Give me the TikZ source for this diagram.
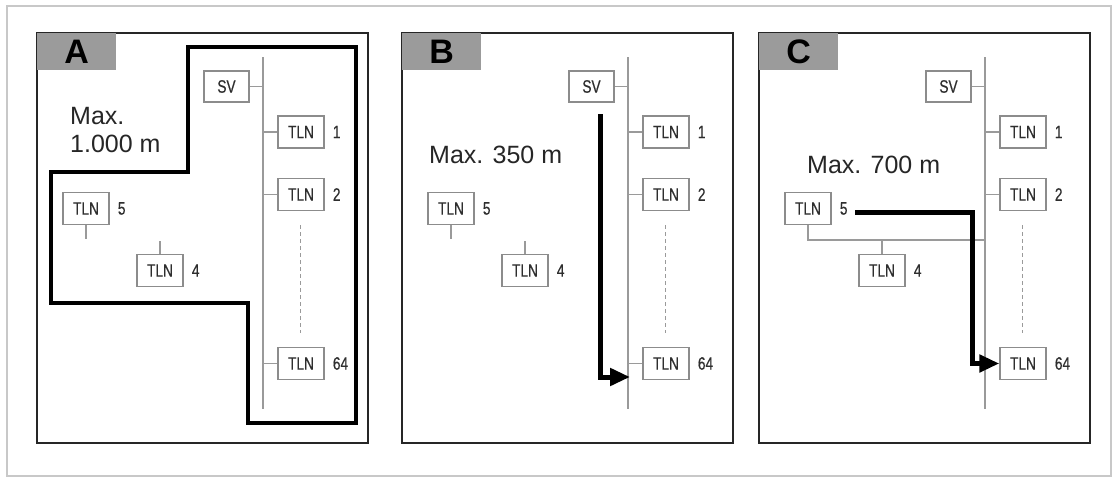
\documentclass[tikz,border=0pt]{standalone}
\usepackage{fontspec}
\setmainfont{Liberation Sans}
\newfontfamily\narrowfont[FakeStretch=0.76,FakeBold=0.5]{Liberation Sans}
\usetikzlibrary{arrows.meta,calc}
\definecolor{boxgray}{HTML}{8C8C8C}
\definecolor{linegray}{HTML}{9A9A9A}
\definecolor{txtgray}{HTML}{2E2E2E}
\definecolor{labgray}{HTML}{9B9B9B}
\definecolor{outergray}{HTML}{C8C8C8}
\tikzset{
  tlnbox/.style={draw=boxgray, line width=1.4pt, minimum width=46pt, minimum height=32pt,
    inner sep=0pt, fill=white, text=txtgray, font=\narrowfont\fontsize{18}{18}\selectfont},
  numlab/.style={text=txtgray, font=\narrowfont\fontsize{18}{18}\selectfont, inner sep=0pt,
    xshift=8pt},
  busline/.style={draw=linegray, line width=1.4pt},
  dashline/.style={draw=linegray, line width=1pt, dash pattern=on 4pt off 3pt},
  panelframe/.style={draw=black!85, line width=1.6pt},
  labelbox/.style={fill=labgray, minimum width=79pt, minimum height=37pt, inner sep=0pt,
    anchor=north west, font=\bfseries\fontsize{34}{34}\selectfont, text=black},
  maxtext/.style={anchor=base west, inner sep=0pt, text=black!85, font=\fontsize{25}{28}\selectfont},
  thickpath/.style={draw=black, line width=4.5pt},
  arrowpath/.style={draw=black, line width=5pt, -{Triangle[length=20pt,width=17pt]}},
}
\newcommand\drawpanel[3]{%
\begin{scope}[xshift=#1pt]
  \draw[panelframe] (0,33) rectangle (331,443);
  \node[labelbox] (#3lab) at (0,33) {#2};
  \coordinate (#3top) at (226,57);
  \coordinate (#3bot) at (226,409);
  \draw[busline] (#3top) -- (#3bot);
  \node[tlnbox, minimum width=45pt, minimum height=31pt] (#3sv) at (189.5,86.5) {SV};
  \node[tlnbox, label={[numlab]right:1}] (#3t1) at (264,132) {TLN};
  \node[tlnbox, label={[numlab]right:2}] (#3t2) at (264,194.5) {TLN};
  \node[tlnbox, label={[numlab]right:64}] (#3t64) at (264,363.5) {TLN};
  \node[tlnbox, label={[numlab]right:5}] (#3t5) at (49,208.5) {TLN};
  \node[tlnbox, label={[numlab]right:4}] (#3t4) at (123,270.5) {TLN};
  \draw[busline] (#3sv.east) -- (#3sv.east -| #3top);
  \draw[busline] (#3t1.west -| #3top) -- (#3t1.west);
  \draw[busline] (#3t2.west -| #3top) -- (#3t2.west);
  \draw[busline] (#3t64.west -| #3top) -- (#3t64.west);
  \coordinate (#3dtop) at (263,225);
  \coordinate (#3dbot) at (263,333);
  \draw[dashline] (#3dtop) -- (#3dbot);
\end{scope}}
\begin{document}
\begin{tikzpicture}[x=1pt,y=-1pt]
  \useasboundingbox (0,0) rectangle (1118,479);
  \fill[white] (0,0) rectangle (1118,479);
  \draw[outergray, line width=2pt] (7,6) rectangle (1111,476);

  % Panel A
  \drawpanel{37}{A}{a}
  \begin{scope}[xshift=37pt]
    \coordinate (as5) at (49,239);
    \coordinate (as4) at (123,241);
    \draw[busline] (at5.south) -- (as5);
    \draw[busline] (as4) -- (at4.north);
    \draw[thickpath] (151,47) -- (319,47) -- (319,423) -- (211,423) -- (211,303)
      -- (14,303) -- (14,172) -- (151,172) -- cycle;
    \node[maxtext] (amax1) at (33,124) {Max.};
    \node[maxtext] (amax2) at (33,152) {1.000 m};
  \end{scope}

  % Panel B
  \drawpanel{402}{B}{b}
  \begin{scope}[xshift=402pt]
    \coordinate (bs5) at (49,239);
    \coordinate (bs4) at (123,241);
    \draw[busline] (bt5.south) -- (bs5);
    \draw[busline] (bs4) -- (bt4.north);
    \node[maxtext] (bmax) at (27,163) {Max. 350 m};
    \coordinate (bstart) at (198,114);
    \coordinate (bcorner) at (198,377);
    \coordinate (btip) at (228,377);
    \draw[arrowpath] (bstart) -- (bcorner) -- (btip);
  \end{scope}

  % Panel C
  \drawpanel{759}{C}{c}
  \begin{scope}[xshift=759pt]
    \coordinate (cj5) at (49,240);
    \coordinate (cj4) at (123,240);
    \draw[busline] (ct5.south) -- (cj5) -- (cj5 -| ctop);
    \draw[busline] (cj4) -- (ct4.north);
    \node[maxtext] (cmax) at (48,173) {Max. 700 m};
    \coordinate (cstart) at (96,212);
    \coordinate (ccorner1) at (213,212);
    \coordinate (ccorner2) at (213,363.5);
    \draw[arrowpath] (cstart) -- (ccorner1) -- (ccorner2) -- (ct64.west);
  \end{scope}
\end{tikzpicture}
\end{document}
